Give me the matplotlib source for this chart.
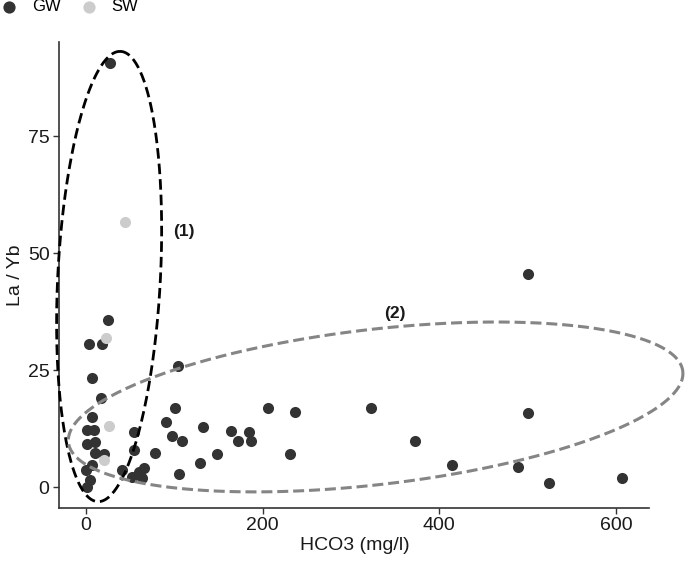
import numpy as np
import matplotlib
matplotlib.use("Agg")
import matplotlib.pyplot as plt

plt.rcParams['font.family'] = ['Liberation Sans', 'DejaVu Sans']

# groundwater samples: HCO3 (mg/l) and La/Yb ratio
gw_hco3 = [27, 25, 3.7, 17.8, 6.5, 17, 6.8, 1.1, 8.7, 54, 1.1, 9.8, 10.6, 54,
           78.5, 20, 6.8, 0, 40.8, 65.4, 4.9, 1.1, 52, 63.4, 59.7,
           100.8, 90.6, 97, 108.4, 132, 105.7, 129, 148, 164, 172, 185, 187,
           206, 237, 231, 323, 500, 500, 373, 415, 489, 524, 607.5, 104]
gw_layb = [90.7, 35.8, 30.7, 30.7, 23.4, 19, 15.0, 12.3, 12.3, 11.8, 9.3, 9.7,
           7.2, 7.9, 7.2, 7.0, 4.7, 3.6, 3.6, 4.0, 1.5, 0.1, 2.2, 1.9, 3.3,
           16.9, 14.0, 11.0, 9.9, 12.9, 2.9, 5.2, 7.0, 12.0, 9.9, 11.8, 9.9,
           16.9, 16.0, 7.0, 16.9, 45.6, 15.9, 9.9, 4.7, 4.3, 0.9, 2.0, 25.9]

# surface water samples
sw_hco3 = [44, 22.7, 26.4, 20.8]
sw_layb = [56.8, 32, 13.0, 5.9]

# hand drawn groups: centre and two conjugate semi-diameters
ell1_center = (26.2, 45.05)
ell1_u = (12.3, 48.15)
ell1_v = (58.2, 0.0)
ell2_center = (328, 17.15)
ell2_u = (348, 7.15)
ell2_v = (0.0, 16.7)


def ellipse_path(center, u, v, n=400):
    t = np.linspace(0, 2 * np.pi, n)
    x = center[0] + u[0] * np.cos(t) + v[0] * np.sin(t)
    y = center[1] + u[1] * np.cos(t) + v[1] * np.sin(t)
    return x, y


fig = plt.figure(figsize=(6.85, 5.64), dpi=100)
ax = fig.add_axes([0.0866, 0.0998, 0.8614, 0.8257])

ax.scatter(gw_hco3, gw_layb, s=64, color='#333333', linewidths=0, label='GW', zorder=3)
ax.scatter(sw_hco3, sw_layb, s=64, color='#cccccc', linewidths=0, label='SW', zorder=3)

x1, y1 = ellipse_path(ell1_center, ell1_u, ell1_v)
ax.plot(x1, y1, color='black', lw=2.0, dashes=(3.8, 1.8), zorder=4, clip_on=False)
x2, y2 = ellipse_path(ell2_center, ell2_u, ell2_v)
ax.plot(x2, y2, color='#858585', lw=2.2, dashes=(3.6, 1.6), zorder=4, clip_on=False)

ax.text(111, 54.7, '(1)', fontsize=12.5, fontweight='bold', ha='center', va='center', color='#1a1a1a')
ax.text(350, 37.1, '(2)', fontsize=12.5, fontweight='bold', ha='center', va='center', color='#1a1a1a')

ax.set_xlim(-30.2, 638)
ax.set_ylim(-4.4, 95.2)
ax.set_xticks([0, 200, 400, 600])
ax.set_yticks([0, 25, 50, 75])

for side in ['top', 'right']:
    ax.spines[side].set_visible(False)
for side in ['left', 'bottom']:
    ax.spines[side].set_color('#333333')
    ax.spines[side].set_linewidth(1.2)
ax.tick_params(length=4, width=1, color='#333333', labelsize=14, labelcolor='#1a1a1a', pad=3)

ax.set_xlabel('HCO3 (mg/l)', fontsize=14, color='#1a1a1a', labelpad=2)
ax.set_ylabel('La / Yb', fontsize=14, color='#1a1a1a', labelpad=3)

fig.legend(loc='upper left', bbox_to_anchor=(-0.028, 1.028), ncol=2, frameon=False,
           fontsize=12, handletextpad=0.55, columnspacing=0.9, markerscale=1.1,
           handlelength=1.6)

fig.savefig('out.png', dpi=100)
